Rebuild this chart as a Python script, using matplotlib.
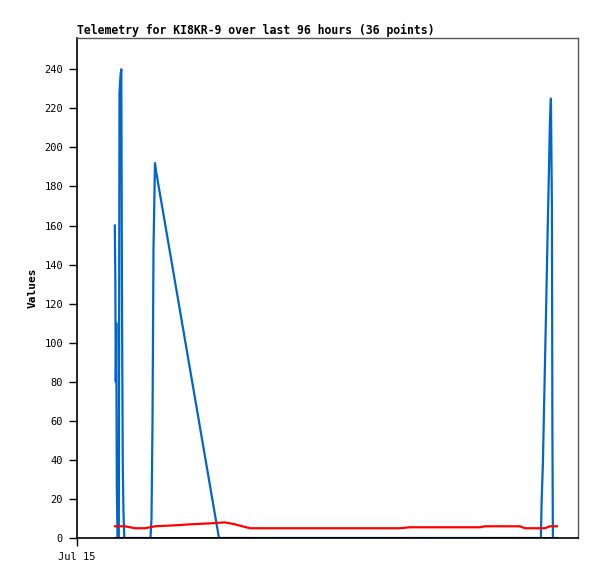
import matplotlib
matplotlib.use('Agg')
import matplotlib.pyplot as plt

# hours after Jul 15 00:00
blue_t = [8.15, 8.26, 8.36, 8.47, 8.58, 8.73, 9.01, 9.16, 9.38, 9.55, 9.70, 9.87,
          10.02, 10.20, 15.84, 16.06, 16.28, 16.49, 16.81, 17.03, 30.61, 100.02,
          100.17, 100.45, 100.67, 100.89, 101.10, 101.32, 101.53, 101.75, 101.96,
          102.18, 102.40, 102.50, 102.61, 103.47]
blue_v = [160, 133, 80, 110, 27, 0, 0, 228, 237, 240, 120, 36,
          13, 0, 0, 10, 60, 148, 192, 188, 0, 0,
          18, 38, 63, 88, 112, 138, 163, 187, 212,
          225, 169, 56, 0, 0]

red_t = [8.19, 10.35, 12.50, 14.66, 16.81, 21.13, 24.36, 28.67, 31.90, 34.06, 37.29,
         48.07, 69.63, 71.79, 86.88, 87.95, 95.50, 96.58, 100.89, 101.96, 103.47]
red_v = [6, 6, 5, 5, 6, 6.5, 7, 7.5, 8, 7, 5,
         5, 5, 5.5, 5.5, 6, 6, 5, 5, 6, 6]

black_t = [8.15, 103.47]
black_v = [0, 0]

yticks = list(range(0, 241, 20))

fig = plt.figure(figsize=(5.97, 5.79), dpi=100)
ax = fig.add_axes([0.129, 0.0708, 0.839, 0.8635])

ax.plot(blue_t, blue_v, color='#0066cc', lw=1.6)
ax.plot(red_t, red_v, color='#ff0000', lw=1.6)
ax.plot(black_t, black_v, color='black', lw=2)

ax.set_xlim(0, 108)
ax.set_ylim(0, 256)
ax.set_yticks(yticks)
ax.set_xticks([0])
ax.set_xticklabels(['Jul 15'])

mono = 'DejaVu Sans Mono'
for lab in ax.get_xticklabels() + ax.get_yticklabels():
    lab.set_family(mono)
    lab.set_fontsize(7.5)
ax.tick_params(direction='out', length=6, width=1, color='black', pad=4)

for s in ['left', 'bottom']:
    ax.spines[s].set_color('black')
    ax.spines[s].set_linewidth(1.2)
for s in ['top', 'right']:
    ax.spines[s].set_color('#555555')
    ax.spines[s].set_linewidth(1)

ax.set_title('Telemetry for KI8KR-9 over last 96 hours (36 points)', loc='left',
             fontsize=8.3, fontweight='bold', family=mono, pad=3)
ax.set_ylabel('Values', fontsize=8, fontweight='bold', family=mono, labelpad=5)

fig.savefig('out.png', dpi=100)
